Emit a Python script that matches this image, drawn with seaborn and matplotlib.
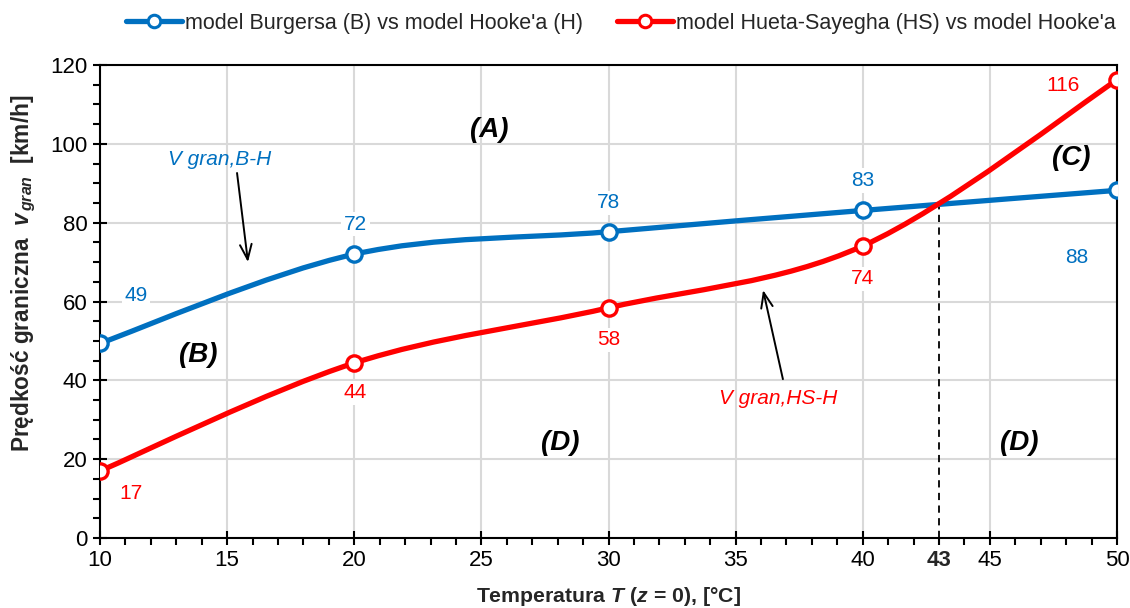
import numpy as np
import pandas as pd
import seaborn as sns
import matplotlib
matplotlib.use("Agg")
import matplotlib.pyplot as plt
from matplotlib.path import Path
from matplotlib.patches import PathPatch
from matplotlib.lines import Line2D
from matplotlib.ticker import MultipleLocator

# ---------------- data ----------------
temperature = [10, 20, 30, 40, 50]
v_burgers_hooke = [49.4, 72.0, 77.7, 83.1, 88.2]
v_hueta_hooke = [17.0, 44.4, 58.4, 74.1, 116.2]
series_names = ["model Burgersa (B) vs model Hooke'a (H)",
                "model Hueta-Sayegha (HS) vs model Hooke'a"]
intersect_T = 43
intersect_v = 84.8
x_ticks = [10, 15, 20, 25, 30, 35, 40, 45, 50]
y_ticks = [0, 20, 40, 60, 80, 100, 120]

BLUE = "#0070C0"
RED = "#FF0000"

sns.set_theme(style="white")
plt.rcParams["font.family"] = ["Liberation Sans", "DejaVu Sans"]
plt.rcParams["mathtext.fontset"] = "custom"
plt.rcParams["mathtext.it"] = "Liberation Sans:italic:bold"
plt.rcParams["mathtext.rm"] = "Liberation Sans:bold"
plt.rcParams["mathtext.bf"] = "Liberation Sans:bold"

fig = plt.figure(figsize=(11.3, 6.08), dpi=100)
ax = fig.add_axes([100 / 1130, 1 - 538 / 608, 1017 / 1130, (538 - 65) / 608])


def smooth_path(xs, ys):
    """Excel-like smoothed line: cubic Bezier through the data points."""
    pts = np.column_stack([xs, ys]).astype(float)
    n = len(pts)
    verts = [pts[0]]
    codes = [Path.MOVETO]
    for i in range(n - 1):
        p_prev = pts[i - 1] if i > 0 else pts[i]
        p0, p1 = pts[i], pts[i + 1]
        p_next = pts[i + 2] if i + 2 < n else pts[i + 1]
        c1 = p0 + (p1 - p_prev) / 6.0
        c2 = p1 - (p_next - p0) / 6.0
        verts += [c1, c2, p1]
        codes += [Path.CURVE4] * 3
    return Path(verts, codes)


df = pd.DataFrame({"T": temperature, "B": v_burgers_hooke, "HS": v_hueta_hooke})

for col, color in (("B", BLUE), ("HS", RED)):
    ax.add_patch(PathPatch(smooth_path(df["T"], df[col]), fill=False,
                           ec=color, lw=3.8, capstyle="round", zorder=3))
    sns.lineplot(data=df, x="T", y=col, ax=ax, color=color, linestyle="",
                 marker="o", markersize=11, markerfacecolor="white",
                 markeredgecolor=color, markeredgewidth=2.4, zorder=4,
                 legend=False)

# dashed intersection line
ax.plot([intersect_T, intersect_T], [0, intersect_v], color="black",
        lw=1.3, ls=(0, (4, 3)), zorder=2)

# value labels (offsets in pixels)
blue_off = [(36, 48), (1, 30), (0, 29), (0, 30), (-40, -67)]
red_off = [(31, -23), (1, -30), (0, -32), (0, -33), (-54, -6)]
for vals, offs, color in ((v_burgers_hooke, blue_off, BLUE),
                          (v_hueta_hooke, red_off, RED)):
    for t, v, (dx, dy) in zip(temperature, vals, offs):
        ax.annotate(f"{v:.0f}", xy=(t, v), xytext=(dx, dy),
                    textcoords="offset pixels", ha="center", va="center",
                    color=color, fontsize=15, zorder=6,
                    bbox=dict(fc="white", ec="none", pad=2))

# region labels
for txt, x, y in (("(A)", 25.3, 103.5), ("(B)", 13.85, 46.4),
                  ("(C)", 48.2, 96.4), ("(D)", 28.1, 24.1),
                  ("(D)", 46.15, 24.1)):
    ax.text(x, y, txt, ha="center", va="center", fontsize=20,
            fontweight="bold", fontstyle="italic", color="black", zorder=6)

# arrow annotations
ax.text(14.72, 95.9, "V gran,B-H", color=BLUE, fontsize=15,
        fontstyle="italic", ha="center", va="center")
ax.annotate("", xy=(15.82, 70.0), xytext=(15.39, 92.6),
            arrowprops=dict(arrowstyle="->,head_length=0.9,head_width=0.35",
                            lw=1.4, color="black", shrinkA=0, shrinkB=0))
ax.text(36.67, 35.5, "V gran,HS-H", color=RED, fontsize=15,
        fontstyle="italic", ha="center", va="center")
ax.annotate("", xy=(36.08, 62.9), xytext=(36.86, 40.3),
            arrowprops=dict(arrowstyle="->,head_length=0.9,head_width=0.35",
                            lw=1.4, color="black", shrinkA=0, shrinkB=0))

# axes
ax.set_xlim(10, 50)
ax.set_ylim(0, 120)
ax.set_xticks(x_ticks)
ax.set_yticks(y_ticks)
ax.xaxis.set_minor_locator(MultipleLocator(1))
ax.yaxis.set_minor_locator(MultipleLocator(5))
ax.grid(True, which="major", color="#d9d9d9", lw=1.5, zorder=0)
ax.set_axisbelow(True)
for s in ax.spines.values():
    s.set_color("black")
    s.set_linewidth(1.5)
ax.tick_params(which="major", direction="inout", length=10, width=1.5,
               labelsize=16, colors="black", pad=4)
ax.tick_params(which="minor", direction="out", length=5, width=1.5,
               colors="black")
ax.tick_params(axis="x", which="both", bottom=True, top=False)
ax.tick_params(axis="y", which="both", left=True, right=False)

ax.annotate(str(intersect_T), xy=(intersect_T, 0),
            xycoords=("data", "axes fraction"), xytext=(0, -9),
            textcoords="offset points", ha="center", va="top",
            fontsize=16, fontweight="bold")

ax.set_xlabel("Temperatura $T$ ($z$ = 0), [°C]", fontsize=15.3,
              fontweight="bold", labelpad=10)
ax.set_ylabel("Prędkość graniczna  $v_{\\,gran}$  [km/h]", fontsize=16.3,
              fontweight="bold", labelpad=10)
ax.yaxis.set_label_coords(-0.061, 0.56)

handles = [Line2D([0], [0], color=c, lw=3.8, marker="o", markersize=9,
                  markerfacecolor="white", markeredgecolor=c,
                  markeredgewidth=2.2) for c in (BLUE, RED)]
fig.legend(handles, series_names, loc="center", ncol=2,
           bbox_to_anchor=(0.5496, 1 - 23 / 608), frameon=False, fontsize=15.5,
           handlelength=2.6, columnspacing=1.55, handletextpad=0.15)

fig.savefig("out.png", dpi=100)
